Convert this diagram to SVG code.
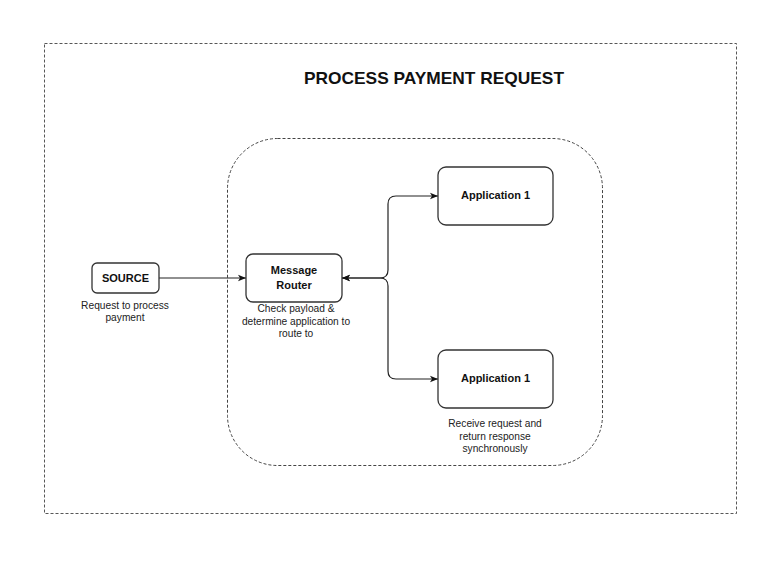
<svg xmlns="http://www.w3.org/2000/svg" width="782" height="562" viewBox="0 0 782 562">
<style>
.box{fill:#fff;stroke:#333;stroke-width:1.3}
.lbl{font-family:"Liberation Sans",Arial,sans-serif;font-weight:bold;font-size:11px;fill:#111;text-anchor:middle}
.note{font-family:"Liberation Sans",Arial,sans-serif;font-size:10.2px;fill:#222;text-anchor:middle}
.conn{fill:none;stroke:#222;stroke-width:1.2}
</style>
<defs>
<marker id="arr" viewBox="0 0 10 10" refX="10" refY="5" markerWidth="8" markerHeight="8" markerUnits="userSpaceOnUse" orient="auto-start-reverse">
<path d="M0,1 L10,5 L0,9 L2.5,5 Z" fill="#111"/>
</marker>
</defs>
<rect width="782" height="562" fill="#fff"/>
<g id="frame">
<rect x="44.5" y="43.5" width="692" height="470" fill="none" stroke="#444" stroke-width="0.9" stroke-dasharray="3,2"/>
<text x="434" y="84" font-family="'Liberation Sans',Arial,sans-serif" font-weight="bold" font-size="17" fill="#111" text-anchor="middle" textLength="260" lengthAdjust="spacingAndGlyphs">PROCESS PAYMENT REQUEST</text>
</g>
<g id="router-group">
<rect x="227.5" y="138.5" width="375" height="327" rx="50" fill="none" stroke="#444" stroke-width="1" stroke-dasharray="3,2"/>
</g>
<g id="connectors">
<path class="conn" d="M159,278 H246" marker-end="url(#arr)"/>
<path class="conn" d="M342,278 H380 Q388,278 388,270 V204 Q388,196 396,196 H438" marker-start="url(#arr)" marker-end="url(#arr)"/>
<path class="conn" d="M342,278 H380 Q388,278 388,286 V371 Q388,379 396,379 H438" marker-start="url(#arr)" marker-end="url(#arr)"/>
</g>
<g id="source">
<rect class="box" x="92" y="263" width="67" height="30" rx="5"/>
<text class="lbl" x="125.5" y="282">SOURCE</text>
<text class="note" x="125" y="308.5">Request to process</text>
<text class="note" x="125" y="320.5">payment</text>
</g>
<g id="message-router">
<rect class="box" x="246" y="254" width="96" height="48" rx="7"/>
<text class="lbl" x="294" y="274">Message</text>
<text class="lbl" x="294" y="289">Router</text>
<text class="note" x="296" y="312">Check payload &amp;</text>
<text class="note" x="296" y="324.5">determine application to</text>
<text class="note" x="296" y="337">route to</text>
</g>
<g id="application-1-top">
<rect class="box" x="438" y="167" width="115" height="58" rx="8"/>
<text class="lbl" x="495.5" y="199">Application 1</text>
</g>
<g id="application-1-bottom">
<rect class="box" x="438" y="350" width="115" height="58" rx="8"/>
<text class="lbl" x="495.5" y="382">Application 1</text>
<text class="note" x="495" y="427">Receive request and</text>
<text class="note" x="495" y="439.5">return response</text>
<text class="note" x="495" y="452">synchronously</text>
</g>
</svg>
